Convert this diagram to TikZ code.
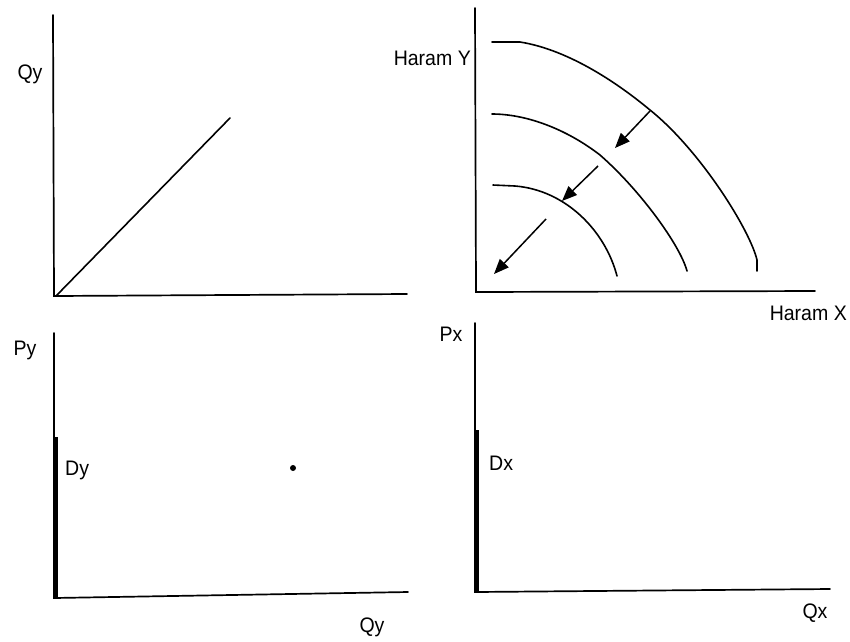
\documentclass[tikz,border=0pt]{standalone}
\usepackage{fontspec}
\setmainfont{Liberation Sans}
\usetikzlibrary{arrows.meta}
\begin{document}
\begin{tikzpicture}[x=1pt,y=-1pt,
  axis/.style={line width=1.7pt,line cap=round},
  thickseg/.style={line width=5pt},
  curve/.style={line width=1.6pt,line cap=round},
  shiftarrow/.style={line width=1.5pt,-{Triangle[length=15pt,width=12pt]}},
  lbl/.style={font=\fontsize{21}{21}\selectfont,inner sep=0pt,xscale=0.93}]
\useasboundingbox (0,0) rectangle (850,641);
% top-left panel
\coordinate (tlo) at (54,296);
\draw[axis] (53,15) -- (tlo) -- (407,294);
\coordinate (diagend) at (230,118);
\draw[curve] (56,296) -- (diagend);
\node[lbl] (qyl) at (30,74) {Qy};
% top-right panel
\coordinate (tro) at (476,292);
\draw[axis] (475,8) -- (tro) -- (815,291);
\draw[curve] (492,42) -- (520,42) .. controls (570,50) and (620,85) .. (650,110)
  .. controls (700,150) and (750,230) .. (757,260) -- (757,271);
\draw[curve] (492,114) .. controls (525,114) and (565,128) .. (600,155)
  .. controls (640,190) and (680,245) .. (687,271);
\draw[curve] (493,185) -- (515,186) .. controls (565,190) and (605,230) .. (617,276);
\coordinate (a1s) at (650,111);
\coordinate (a1e) at (615,148);
\coordinate (a2s) at (598,166);
\coordinate (a2e) at (562,201);
\coordinate (a3s) at (546,219);
\coordinate (a3e) at (494,274);
\draw[shiftarrow] (a1s) -- (a1e);
\draw[shiftarrow] (a2s) -- (a2e);
\draw[shiftarrow] (a3s) -- (a3e);
\node[lbl,anchor=east] (hy) at (471,58) {Haram Y};
\node[lbl,anchor=east] (hx) at (847,313) {Haram X};
% bottom-left panel
\coordinate (blo) at (54,598);
\draw[axis] (54,333) -- (blo) -- (408,592);
\draw[thickseg] (55,437) -- (55,598);
\node[lbl] (pyl) at (25,350) {Py};
\node[lbl,anchor=west] (dyl) at (65,470) {Dy};
\node[lbl] (qyb) at (372,627) {Qy};
\fill (293,468) circle (3pt);
% bottom-right panel
\coordinate (bro) at (475,592);
\draw[axis] (475,323) -- (bro) -- (830,589);
\draw[thickseg] (476,430) -- (476,592);
\node[lbl] (pxl) at (451,334) {Px};
\node[lbl,anchor=west] (dxl) at (489,463) {Dx};
\node[lbl] (qxl) at (815,613) {Qx};
\end{tikzpicture}
\end{document}
